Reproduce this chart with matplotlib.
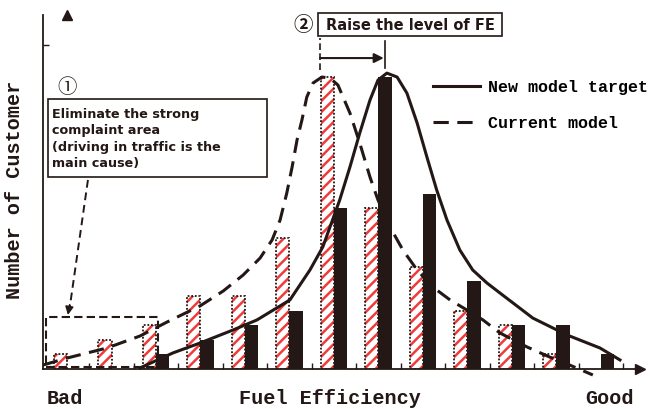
import matplotlib
matplotlib.use('Agg')
import matplotlib.pyplot as plt
from matplotlib.patches import Rectangle

# bar groups along fuel efficiency (bad -> good)
groups = list(range(13))
current = [1, 2, 3, 5, 5, 9, 20, 11, 7, 4, 3, 1, 0]
target = [0, 0, 1, 2, 3, 4, 11, 20, 12, 6, 3, 3, 1]

# distribution curves
target_x = [1.64, 2.38, 2.99, 3.73, 4.27, 5.01, 5.46, 5.75, 6.13, 6.36, 6.58, 6.81,
            6.99, 7.19, 7.42, 7.64, 7.87, 8.09, 8.31, 8.54, 8.83, 9.12, 9.44, 9.73,
            10.47, 11.24, 11.98, 12.43]
target_y = [0.07, 1.10, 1.78, 2.67, 3.36, 4.73, 6.78, 8.36, 11.58, 13.84, 16.16, 18.42,
            19.79, 20.27, 20.00, 18.90, 16.85, 14.52, 12.26, 10.21, 8.15, 6.78, 5.89, 5.21,
            3.49, 2.33, 1.44, 0.62]
current_x = [-0.54, 0.0, 0.90, 1.64, 2.25, 2.99, 3.51, 3.96, 4.34, 4.61, 4.79, 4.94,
             5.06, 5.17, 5.28, 5.39, 5.53, 5.73, 5.91, 6.09, 6.36, 6.58, 6.81, 6.99,
             7.26, 7.55, 7.87, 8.22, 8.61, 8.99, 9.35, 9.73, 10.34, 10.85, 11.30, 11.82]
current_y = [0.27, 0.75, 1.44, 2.26, 3.22, 4.32, 5.34, 6.44, 7.60, 8.84, 10.21, 12.05,
             13.84, 15.68, 17.05, 18.63, 19.59, 20.00, 19.93, 19.45, 17.53, 15.48, 13.15, 11.58,
             9.73, 8.15, 6.78, 5.62, 4.73, 4.04, 3.36, 2.47, 1.51, 0.82, 0.27, -0.41]

RED = '#ef3b3b'
INK = '#231815'
MONO = 'Liberation Mono'

plt.rcParams['hatch.linewidth'] = 1.8

fig = plt.figure(figsize=(6.51, 4.09), dpi=100)
ax = fig.add_axes([43 / 651, 40 / 409, 597 / 651, 354 / 409])
ax.set_xlim(-0.54, 12.88)
ax.set_ylim(0, 24.25)

cx = [g for g, v in zip(groups, current) if v > 0]
cv = [v for v in current if v > 0]
tx = [g for g, v in zip(groups, target) if v > 0]
tv = [v for v in target if v > 0]

ax.bar(cx, cv, width=-0.3, align='edge', color='white', edgecolor=RED,
       hatch='///', linewidth=0, zorder=2)
ax.bar(cx, cv, width=-0.3, align='edge', fill=False, edgecolor=INK,
       linestyle=(0, (1, 1)), linewidth=1.3, zorder=2)
ax.bar(tx, tv, width=0.3, align='edge', color=INK, zorder=2)

ax.plot(target_x, target_y, color=INK, lw=2.2, clip_on=False, zorder=4,
        solid_joinstyle='round', label='New model target')
ax.plot(current_x, current_y, color=INK, lw=2.2, dashes=(5, 2.8), clip_on=False,
        zorder=4, label='Current model')

# axes with arrow heads
for s in ['top', 'right']:
    ax.spines[s].set_visible(False)
for s in ['left', 'bottom']:
    ax.spines[s].set_linewidth(1.3)
    ax.spines[s].set_color(INK)
ax.plot(1, 0, '>', color=INK, ms=7, transform=ax.get_yaxis_transform(), clip_on=False)
ax.plot(0, 1, '^', color=INK, ms=7, transform=ax.get_xaxis_transform(), clip_on=False)
ax.set_xticks([g + 0.5 for g in groups])
ax.set_yticks([22.2])
ax.tick_params(direction='in', length=4, width=1, color=INK,
               labelbottom=False, labelleft=False)

# 1) complaint area
ax.add_patch(Rectangle((-0.47, 0.14), 2.52, 3.42, fill=False, ec=INK, ls=(0, (4, 2)),
                       lw=1.5, zorder=3))
ax.add_patch(Rectangle((-0.43, 13.15), 4.92, 5.34, fill=False, ec=INK, lw=1.2))
ax.text(-0.34, 15.75, 'Eliminate the strong\ncomplaint area\n(driving in traffic is the\nmain cause)',
        ha='left', va='center', fontsize=9.2, fontweight='bold', linespacing=1.34, color=INK)
ax.text(0.0, 19.3, '①', ha='center', va='center', fontsize=14,
        family=['Noto Sans CJK JP', 'DejaVu Sans'], color=INK)
ax.plot([0.47, 0.06], [12.95, 4.2], color=INK, lw=1.4, ls=(0, (4, 2.5)))
ax.annotate('', xy=(0.02, 3.7), xytext=(0.06, 4.4),
            arrowprops=dict(arrowstyle='-|>', color=INK, lw=1.2, mutation_scale=12,
                            shrinkA=0, shrinkB=0))

# 2) raise the level
ax.plot([5.69, 5.69], [20.48, 22.67], color=INK, lw=1.2, ls=(0, (4, 2)), clip_on=False)
ax.plot([7.15, 7.15], [20.6, 22.5], color=INK, lw=1.2, clip_on=False)
ax.annotate('', xy=(7.12, 21.3), xytext=(5.69, 21.3), annotation_clip=False,
            arrowprops=dict(arrowstyle='-|>', color=INK, lw=1.5, mutation_scale=14,
                            shrinkA=0, shrinkB=0))
ax.add_patch(Rectangle((5.64, 22.81), 4.14, 1.57, fill=False, ec=INK, lw=1.2, clip_on=False))
ax.text(7.71, 23.56, 'Raise the level of FE', ha='center', va='center', fontsize=10.5,
        fontweight='bold', color=INK)
ax.text(5.30, 23.56, '②', ha='center', va='center', fontsize=14, fontweight='bold',
        family=['Noto Sans CJK JP', 'DejaVu Sans'], color=INK)

ax.legend(loc='upper left', bbox_to_anchor=(433 / 651, 1 - 80 / 409),
          bbox_transform=fig.transFigure, frameon=False,
          prop={'family': MONO, 'size': 12, 'weight': 'bold'}, handlelength=2.8,
          handletextpad=0.5, labelspacing=1.25, borderpad=0, borderaxespad=0)

fig.text(15 / 651, 1 - 190 / 409, 'Number of Customer', rotation=90, ha='center',
         va='center', family=MONO, fontsize=14.5, fontweight='bold', color=INK)
fig.text(65 / 651, 1 - 398 / 409, 'Bad', ha='center', va='center', family=MONO,
         fontsize=14.5, fontweight='bold', color=INK)
fig.text(330 / 651, 1 - 398 / 409, 'Fuel Efficiency', ha='center', va='center',
         family=MONO, fontsize=14.5, fontweight='bold', color=INK)
fig.text(609 / 651, 1 - 398 / 409, 'Good', ha='center', va='center', family=MONO,
         fontsize=14.5, fontweight='bold', color=INK)

fig.savefig('out.png', dpi=100)
